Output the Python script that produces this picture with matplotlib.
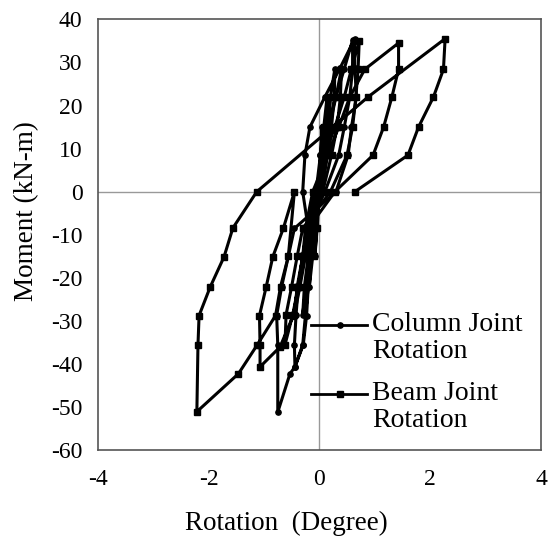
import matplotlib
matplotlib.use('Agg')
import matplotlib.pyplot as plt
from matplotlib.lines import Line2D

plt.rcParams['font.family'] = ['Liberation Serif', 'DejaVu Serif']
plt.rcParams['axes.unicode_minus'] = False

# Column joint rotation (degree) and moment (kN-m), in load order
column_rot = [0.0, 0.02, 0.05, 0.03, 0.0, -0.04, -0.08, -0.05, -0.02,
              0.04, 0.08, 0.14, 0.12, 0.08, 0.02, -0.07, -0.12, -0.18, -0.15, -0.10, -0.04,
              0.05, 0.12, 0.20, 0.28, 0.27, 0.22, 0.15, 0.04, -0.10, -0.17, -0.24, -0.30, -0.27, -0.20, -0.13, -0.06,
              0.02, 0.15, 0.30, 0.45, 0.60, 0.60, 0.55, 0.45, 0.35, 0.10,
              -0.20, -0.30, -0.38, -0.42, -0.45, -0.44, -0.30, -0.25, -0.20, -0.17, -0.20, -0.30,
              -0.26, -0.17, 0.10, 0.37, 0.64, 0.64, 0.67, 0.58, 0.52, 0.30,
              -0.45, -0.56, -0.68, -0.77, -0.75, -0.75, -0.53, -0.44, -0.29, -0.23, -0.20, -0.17, -0.12, -0.05]
column_mom = [0, 8.5, 15, 8.5, 0, -8.5, -15, -8.5, 0,
              8.5, 15, 22, 15, 8.5, 0, -8.5, -15, -22, -15, -8.5, 0,
              8.5, 15, 22, 28.5, 22, 15, 8.5, 0, -8.5, -15, -22, -28.5, -22, -15, -8.5, 0,
              8.5, 15, 22, 28.5, 35.2, 28.5, 22, 15, 8.5, 0,
              -8.5, -15, -22, -28.5, -35.5, -40.6, -35.5, -28.5, -22, -15, -8.5, 0,
              8.5, 15, 22, 28.6, 35.5, 28.6, 22, 15, 8.5, 0,
              -8.5, -15, -22, -28.7, -35.5, -51.1, -42.2, -40.6, -35.5, -28.7, -22, -15, -8.5, 0]

# Beam joint rotation (degree) and moment (kN-m), in load order
beam_rot = [0.0, 0.04, 0.08, 0.05, 0.0, -0.05, -0.10, -0.07, -0.02,
            0.06, 0.12, 0.20, 0.18, 0.12, 0.03, -0.10, -0.16, -0.24, -0.20, -0.14, -0.05,
            0.08, 0.18, 0.30, 0.40, 0.38, 0.32, 0.22, 0.06, -0.15, -0.25, -0.35, -0.45, -0.40, -0.30, -0.22, -0.08,
            0.10, 0.28, 0.45, 0.58, 0.72, 0.70, 0.66, 0.60, 0.50, 0.20,
            -0.30, -0.40, -0.50, -0.60, -0.62, -0.48, -0.38, -0.30, -0.25, -0.12,
            0.15, 0.35, 0.55, 0.82, 1.43, 1.43, 1.31, 1.16, 0.97, 0.28,
            -0.20, -0.30, -0.38, -0.47, -0.71, -1.07, -1.07, -1.08, -0.96, -0.84, -0.65, -0.45,
            -0.56, -0.70, -0.79, -1.12, -1.46, -2.21,
            -2.19, -2.17, -1.97, -1.72, -1.56, -1.13,
            0.88, 2.27, 2.24, 2.06, 1.79, 1.60, 0.64]
beam_mom = [0, 8.5, 15, 8.5, 0, -8.5, -15, -8.5, 0,
            8.5, 15, 22, 15, 8.5, 0, -8.5, -15, -22, -15, -8.5, 0,
            8.5, 15, 22, 28.5, 22, 15, 8.5, 0, -8.5, -15, -22, -28.5, -22, -15, -8.5, 0,
            8.5, 15, 22, 28.5, 35, 28.5, 22, 15, 8.5, 0,
            -8.5, -15, -22, -28.5, -35.5, -28.5, -22, -15, -8.5, 0,
            8.5, 15, 22, 28.4, 34.5, 28.4, 22, 15, 8.5, 0,
            -8.5, -15, -22, -28.7, -36, -40.6, -35.5, -28.7, -22.1, -15.1, -8.5, 0,
            -15, -22, -28.7, -35.5, -42.2, -51,
            -35.5, -28.7, -22.1, -15.1, -8.4, 0,
            22, 35.5, 28.4, 22, 15, 8.5, 0]

x_ticks = [-4, -2, 0, 2, 4]
y_ticks = [-60, -50, -40, -30, -20, -10, 0, 10, 20, 30, 40]

fig = plt.figure(figsize=(5.5, 5.39), dpi=100)
ax = fig.add_axes([0.1776, 0.1642, 0.806, 0.80])

# zero reference lines
ax.axhline(0, color='#999999', lw=1.0, zorder=1)
ax.axvline(0, color='#999999', lw=1.0, zorder=1)

ax.plot(column_rot, column_mom, color='black', lw=2.2, marker='o', ms=3.8, zorder=3)
ax.plot(beam_rot, beam_mom, color='black', lw=2.2, marker='s', ms=3.8, zorder=3)

ax.set_xlim(-4, 4)
ax.set_ylim(-60, 40)
ax.set_xticks(x_ticks)
ax.set_yticks(y_ticks)
ax.tick_params(length=0, labelsize=17)
ax.tick_params('x', pad=13)
ax.tick_params('y', pad=11)
for sp in ax.spines.values():
    sp.set_color('#555555')
    sp.set_linewidth(1.2)

ax.set_xlabel('Rotation  (Degree)', size=19.5)
ax.xaxis.set_label_coords(0.425, -0.14)
ax.set_ylabel('Moment (kN-m)', size=19.5)
ax.yaxis.set_label_coords(-0.132, 0.555)

# legend drawn by hand so each key sits on the first text line
for yk, mk, label in [(0.290, 'o', 'Column Joint\nRotation'), (0.130, 's', 'Beam Joint\nRotation')]:
    ax.add_line(Line2D([0.481, 0.608], [yk, yk], transform=ax.transAxes, color='black', lw=2.0))
    ax.add_line(Line2D([0.547], [yk], transform=ax.transAxes, color='black', marker=mk, ms=3.8))
    ax.text(0.619, yk + 0.032, label, transform=ax.transAxes, ha='left', va='top',
            size=20, linespacing=1.1)

fig.savefig('out.png')
plt.close(fig)
